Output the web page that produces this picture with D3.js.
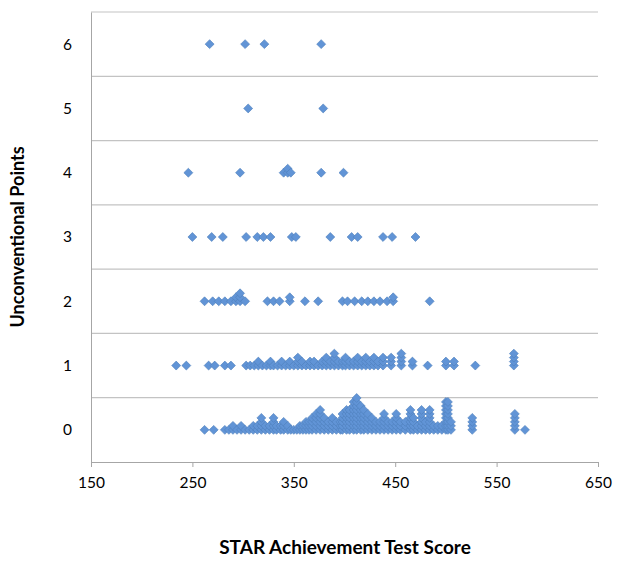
<!DOCTYPE html>
<html><head><meta charset="utf-8">
<script src="https://cdn.jsdelivr.net/npm/d3@7"></script>
<style>
body{margin:0;background:#fff;}
text{font-family:Lato,"Open Sans",sans-serif;fill:#000;}
</style></head>
<body><svg id="c" width="617" height="564"></svg>
<script>
// x tick labels and y categories
const xTicks = [150, 250, 350, 450, 550, 650];
const yCategories = [0, 1, 2, 3, 4, 5, 6];
// each row: scores and how many students share (stack) that score
const scores0 = [262,271,282,286,290,294,298,302,306,310,314,318,322,326,330,333,337,340,344,347,350,353,356,359,362,365,368,372,376,380,384,388,392,396,398,402,405,409,412,416,419,423,427,431,435,439,443,447,451,455,460,465,468,472,476,480,484,488,492,496,500,502,505,526,568,578];
const stack0  = [1,1,1,1,2,1,2,1,1,2,2,4,2,2,4,2,2,3,2,1,1,1,2,2,3,3,4,5,6,4,3,4,3,3,5,6,6,8,9,7,6,5,4,3,3,5,3,3,5,3,3,6,4,2,6,3,6,2,2,2,8,8,3,4,5,1];
const scores1 = [234,244,266,272,282,288,303,307,311,315,319,323,327,330,334,338,342,346,350,354,358,362,366,370,374,378,382,386,390,394,398,401,405,409,413,417,421,425,429,433,438,446,456,467,482,500,508,529,567];
const stack1  = [1,1,1,1,1,1,1,1,1,2,1,1,2,1,1,2,1,2,1,3,2,1,2,2,1,2,3,2,4,2,2,3,2,2,3,2,3,2,3,2,3,3,4,2,1,2,2,1,4];
const scores2 = [262,270,276,282,288,293,297,302,324,330,336,346,361,374,398,403,410,417,423,429,435,442,448,484];
const stack2  = [1,1,1,1,1,2,3,1,1,1,1,2,1,1,1,1,1,1,1,1,1,1,2,1];
const scores3 = [250,269,280,303,314,320,327,348,352,386,407,413,438,447,470];
const stack3  = [1,1,1,1,1,1,1,1,1,1,1,1,1,1,1];
const scores4 = [246,297,340,344,347,377,399];
const stack4  = [1,1,1,2,1,1,1];
const scores5 = [305,379];
const stack5  = [1,1];
const scores6 = [267,302,321,377];
const stack6  = [1,1,1,1];

const rows = [
  {y:0, s:scores0, n:stack0},{y:1, s:scores1, n:stack1},{y:2, s:scores2, n:stack2},
  {y:3, s:scores3, n:stack3},{y:4, s:scores4, n:stack4},{y:5, s:scores5, n:stack5},
  {y:6, s:scores6, n:stack6}];
const stackStep = 0.062;
const points = [];
rows.forEach(r => r.s.forEach((v,i) => {
  for (let k=0;k<r.n[i];k++) points.push({x:v, y:r.y + k*stackStep});
}));

const svg = d3.select("#c");
const x = d3.scaleLinear().domain([150,650]).range([91,598]);
const y = d3.scaleLinear().domain([-0.5,6.5]).range([462,12]);

// gridlines at category boundaries
const grid = d3.range(0.5, 6.6, 1);
svg.append("g").selectAll("line").data(grid).join("line")
  .attr("x1", x(150)).attr("x2", x(650))
  .attr("y1", d=>y(d)).attr("y2", d=>y(d))
  .attr("stroke","#c3c3c3").attr("stroke-width",1.2);

// x axis
const xa = svg.append("g").attr("transform",`translate(0,${y(-0.5)})`)
  .call(d3.axisBottom(x).tickValues(xTicks).tickSize(5).tickPadding(10));
xa.select(".domain").attr("stroke","#a6a6a6");
xa.selectAll(".tick line").attr("stroke","#a6a6a6");
xa.selectAll("text").attr("font-size",15.5).attr("font-family","Lato");

// y axis
const ya = svg.append("g").attr("transform",`translate(${x(150)},0)`)
  .call(d3.axisLeft(y).tickValues(yCategories).tickSize(0).tickPadding(19).tickFormat(d3.format("d")));
ya.select(".domain").attr("stroke","#a6a6a6");
ya.selectAll("text").attr("font-size",15.5).attr("font-family","Lato");

// points: Excel-style diamond (square rotated 45 degrees)
const sym = d3.symbol().type(d3.symbolSquare).size(40);
svg.append("g").selectAll("path").data(points).join("path")
  .attr("d", sym)
  .attr("transform", d=>`translate(${x(d.x)},${y(d.y)}) rotate(45)`)
  .attr("fill","#6194d6").attr("stroke","#4f81bd").attr("stroke-width",0.6);

// titles
svg.append("text").attr("x",345).attr("y",554).attr("text-anchor","middle")
  .attr("font-size",19).attr("font-weight","bold").text("STAR Achievement Test Score");
svg.append("text").attr("transform","translate(24,237) rotate(-90)").attr("text-anchor","middle")
  .attr("font-size",18).attr("font-weight","bold").text("Unconventional Points");
</script></body></html>
